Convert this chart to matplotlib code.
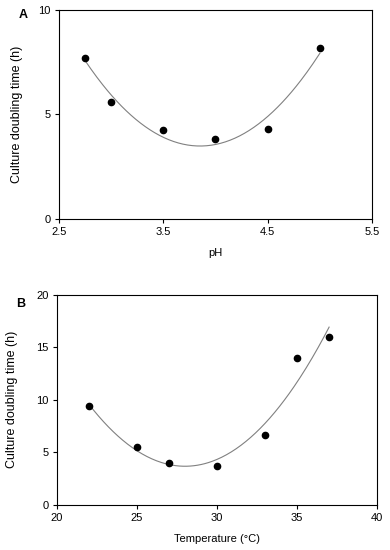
import numpy as np
import matplotlib
matplotlib.use("Agg")
import matplotlib.pyplot as plt

plt.rcParams['font.family'] = ['Liberation Sans', 'DejaVu Sans']

# panel A: pH
ph = [2.75, 3.0, 3.5, 4.0, 4.5, 5.0]
ph_time = [7.68, 5.6, 4.24, 3.8, 4.32, 8.17]
ph_ticks = [2.5, 3.5, 4.5, 5.5]
ph_yticks = [0, 5, 10]

# panel B: temperature
temp = [22, 25, 27, 30, 33, 35, 37]
temp_time = [9.43, 5.52, 4.0, 3.75, 6.7, 13.94, 15.94]
temp_ticks = [20, 25, 30, 35, 40]
temp_yticks = [0, 5, 10, 15, 20]

fig = plt.figure(figsize=(3.9, 5.5), dpi=100)
axA = fig.add_axes([0.151, 0.602, 0.803, 0.380])
axB = fig.add_axes([0.146, 0.082, 0.821, 0.382])


def panel(ax, x, y, xticks, yticks, xlabel, letter, ypad, ly):
    # quadratic fit through the points
    c = np.polyfit(x, y, 2)
    xs = np.linspace(min(x), max(x), 200)
    ax.plot(xs, np.polyval(c, xs), color='#808080', lw=0.8, zorder=1)
    ax.plot(x, y, 'o', color='black', ms=4.5, zorder=2)
    ax.set_xlim(xticks[0], xticks[-1])
    ax.set_ylim(yticks[0], yticks[-1])
    ax.set_xticks(xticks)
    ax.set_yticks(yticks)
    ax.set_xticklabels([str(t) for t in xticks])
    ax.tick_params(direction='out', length=3, width=0.8, labelsize=8, pad=3)
    for s in ax.spines.values():
        s.set_linewidth(0.8)
    ax.set_xlabel(xlabel, fontsize=8, labelpad=8)
    ax.set_ylabel('Culture doubling time (h)', fontsize=9, labelpad=ypad)
    ax.text(-0.127, ly, letter, transform=ax.transAxes, fontsize=9,
            fontweight='bold', ha='left', va='center')


panel(axA, ph, ph_time, ph_ticks, ph_yticks, 'pH', 'A', 11, 0.976)
panel(axB, temp, temp_time, temp_ticks, temp_yticks, 'Temperature (°C)', 'B', 13, 0.957)

fig.savefig('out.png', dpi=100)
